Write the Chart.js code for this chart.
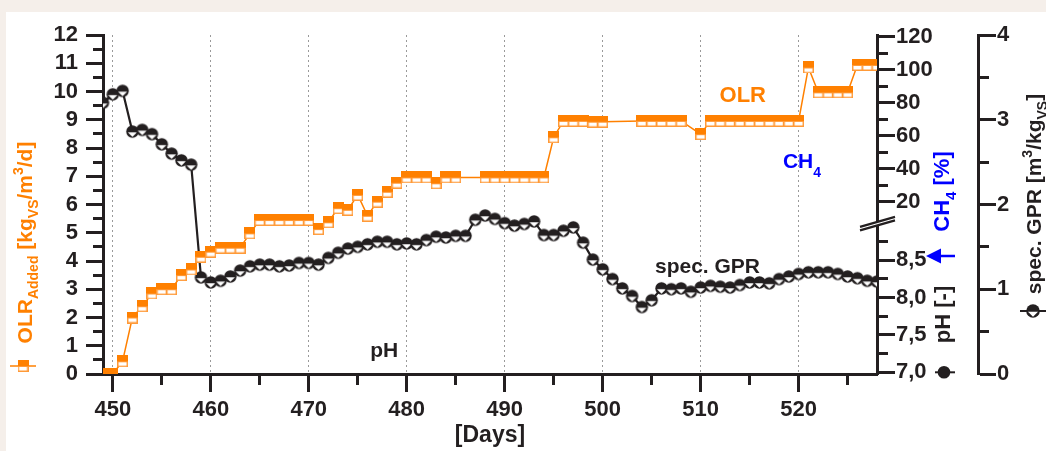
<!DOCTYPE html>
<html><head><meta charset="utf-8">
<script src="https://cdn.jsdelivr.net/npm/chart.js@4.4.1/dist/chart.umd.min.js"></script>
<style>
html,body{margin:0;padding:0;background:#f5efea;width:1046px;height:451px;overflow:hidden}
#panel{position:absolute;left:6px;top:12px;right:0;bottom:0;background:#fff}
#c{position:absolute;left:0;top:0}
</style></head><body>
<div id="panel"></div>
<canvas id="c" width="1046" height="451"></canvas>
<script>
// ---------------- data ----------------
const gprDays = [449,450,451,452,453,454,455,456,457,458,459,460,461,462,463,464,465,466,467,468,469,470,471,472,473,474,475,476,477,478,479,480,481,482,483,484,485,486,487,488,489,490,491,492,493,494,495,496,497,498,499,500,501,502,503,504,505,506,507,508,509,510,511,512,513,514,515,516,517,518,519,520,521,522,523,524,525,526,527,528];
const gprValues = [3.20,3.30,3.34,2.86,2.88,2.83,2.71,2.60,2.52,2.47,1.14,1.08,1.10,1.15,1.22,1.27,1.29,1.29,1.27,1.28,1.31,1.31,1.29,1.37,1.43,1.48,1.50,1.53,1.56,1.56,1.53,1.54,1.53,1.58,1.62,1.61,1.63,1.63,1.82,1.87,1.83,1.78,1.75,1.77,1.80,1.64,1.64,1.69,1.73,1.55,1.35,1.235,1.12,1.01,0.92,0.79,0.87,1.01,1.00,1.01,0.97,1.02,1.04,1.03,1.02,1.05,1.08,1.08,1.07,1.12,1.15,1.18,1.20,1.20,1.20,1.18,1.15,1.13,1.10,1.09];
const olrDays = [449,450,451,452,453,454,455,456,457,458,459,460,461,462,463,464,465,466,467,468,469,470,471,472,473,474,475,476,477,478,479,480,481,482,483,484,485,488,489,490,491,492,493,494,495,496,497,498,499,500,504,505,506,507,508,510,511,512,513,514,515,516,517,518,519,520,521,522,523,524,525,526,527,528];
const olrValues = [0,0,0.45,2.0,2.4,2.85,3.0,3.0,3.5,3.7,4.15,4.33,4.47,4.47,4.47,4.98,5.45,5.45,5.45,5.45,5.45,5.45,5.13,5.37,5.87,5.81,6.34,5.6,6.1,6.45,6.77,6.96,6.96,6.96,6.75,6.96,6.96,6.96,6.96,6.96,6.96,6.96,6.96,6.96,8.38,8.96,8.96,8.96,8.93,8.93,8.96,8.96,8.96,8.96,8.96,8.49,8.96,8.96,8.96,8.96,8.96,8.96,8.96,8.96,8.96,8.96,10.85,9.97,9.97,9.97,9.97,10.94,10.94,10.94];

const dayTicks = [450,460,470,480,490,500,510,520];
const dayMinorTicks = [455,465,475,485,495,505,515,525];
const olrTicks = [0,1,2,3,4,5,6,7,8,9,10,11,12];
const olrMinorTicks = [0.5,1.5,2.5,3.5,4.5,5.5,6.5,7.5,8.5,9.5,10.5,11.5];
const phTicks = [7.0,7.5,8.0,8.5];
const phTickLabels = ['7,0','7,5','8,0','8,5'];
const phMinorTicks = [7.25,7.75,8.25,8.75];
const ch4Ticks = [20,40,60,80,100,120];
const ch4MinorTicks = [30,50,70,90,110];
const gprTicks = [0,1,2,3,4];
const gprMinorTicks = [0.5,1.5,2.5,3.5];

// ---------------- style ----------------
const FONT = '"Liberation Sans", Arial, Helvetica, sans-serif';
const INK = '#231f20', ORANGE = '#ff8000', BLUE = '#0000ff';
const FS = 21;      // titles and in-plot labels
const TFS = 22;     // tick labels

// broken middle axis: pH segment (bottom) and CH4 segment (top) share the 0..12 frame of the left axis
const phToU = p => 0.06 + (p - 7) * 2.644;
const ch4ToU = c => 6.10 + (c - 20) * 0.0584;
const BREAK_U = 5.33;

function makeSquare() {
  const c = document.createElement('canvas'); c.width = 11; c.height = 12;
  const g = c.getContext('2d');
  g.fillStyle = '#ff9a38'; g.fillRect(0, 5, 11, 7);
  g.fillStyle = ORANGE; g.fillRect(0, 0, 11, 6);
  g.fillStyle = '#fff'; g.fillRect(1.5, 7, 8, 3.5);
  return c;
}
function makeCircle(r) {
  const s = Math.ceil(2 * r + 2); const c = document.createElement('canvas'); c.width = s; c.height = s;
  const g = c.getContext('2d'); const m = s / 2;
  g.fillStyle = INK; g.beginPath(); g.arc(m, m, r, 0, 2 * Math.PI); g.fill();
  g.fillStyle = '#fff'; g.beginPath();
  g.moveTo(m - r * 0.74, m + 0.8); g.lineTo(m + r * 0.74, m + 0.8); g.lineTo(m, m + r * 0.86); g.closePath(); g.fill();
  return c;
}
const SQ = makeSquare();
const CIRC = makeCircle(6.2);
const CIRC_BIG = makeCircle(6.8);

function drawRich(ctx, parts, x, y, rot, size, color, align) {
  ctx.save(); ctx.translate(x, y); ctx.rotate(rot);
  ctx.fillStyle = color; ctx.textBaseline = 'alphabetic'; ctx.textAlign = 'left';
  const fonts = parts.map(p => 'bold ' + ((p.sub || p.sup) ? Math.round(size * 0.66) : size) + 'px ' + FONT);
  let w = 0;
  const ws = parts.map((p, i) => { ctx.font = fonts[i]; const m = ctx.measureText(p.t).width; w += m; return m; });
  let cx = align === 'center' ? -w / 2 : 0;
  parts.forEach((p, i) => {
    ctx.font = fonts[i];
    const dy = p.sub ? size * (p.dy || 0.3) : p.sup ? -size * 0.42 : 0;
    ctx.fillText(p.t, cx, dy); cx += ws[i];
  });
  ctx.restore();
}

const deco = {
  id: 'deco',
  afterDraw(chart) {
    const ctx = chart.ctx; const ca = chart.chartArea;
    const sx = chart.scales.x, sy = chart.scales.y, sm = chart.scales.yMid, sg = chart.scales.yGPR;
    ctx.save();
    // minor ticks
    ctx.strokeStyle = INK; ctx.lineWidth = 3; ctx.beginPath();
    dayMinorTicks.forEach(d => { const p = Math.round(sx.getPixelForValue(d) - 1.5) + 1.5; ctx.moveTo(p, ca.bottom); ctx.lineTo(p, ca.bottom + 11); });
    olrMinorTicks.forEach(v => { const p = Math.round(sy.getPixelForValue(v) - 1.5) + 1.5; ctx.moveTo(ca.left - 10, p); ctx.lineTo(ca.left, p); });
    phMinorTicks.forEach(v => { const p = Math.round(sm.getPixelForValue(phToU(v)) - 1.5) + 1.5; ctx.moveTo(sm.left, p); ctx.lineTo(sm.left + 11, p); });
    ch4MinorTicks.forEach(v => { const p = Math.round(sm.getPixelForValue(ch4ToU(v)) - 1.5) + 1.5; ctx.moveTo(sm.left, p); ctx.lineTo(sm.left + 11, p); });
    gprMinorTicks.forEach(v => { const p = Math.round(sg.getPixelForValue(v) - 1.5) + 1.5; ctx.moveTo(sg.left, p); ctx.lineTo(sg.left + 11, p); });
    ctx.stroke();

    // axis break
    const yb = sm.getPixelForValue(BREAK_U), xb = sm.left + 1.5;
    ctx.fillStyle = '#fff'; ctx.beginPath();
    ctx.moveTo(xb - 18.5, yb + 3.4); ctx.lineTo(xb + 16.5, yb - 6.6); ctx.lineTo(xb + 16.5, yb - 3.3); ctx.lineTo(xb - 18.5, yb + 6.7); ctx.closePath(); ctx.fill();
    ctx.lineWidth = 2.2; ctx.strokeStyle = INK; ctx.beginPath();
    ctx.moveTo(xb - 18.5, yb + 3.4); ctx.lineTo(xb + 16.5, yb - 6.6);
    ctx.moveTo(xb - 18.5, yb + 7.0); ctx.lineTo(xb + 16.5, yb - 3.0);
    ctx.stroke();

    // axis titles
    drawRich(ctx, [{t:'OLR'},{t:'Added',sub:true},{t:' [kg'},{t:'VS',sub:true},{t:'/m'},{t:'3',sup:true},{t:'/d]'}], 32, 242.5, -Math.PI/2, FS, ORANGE, 'center');
    drawRich(ctx, [{t:'CH'},{t:'4',sub:true},{t:' [%]'}], 949, 191.5, -Math.PI/2, FS + 1, BLUE, 'center');
    drawRich(ctx, [{t:'pH [-]'}], 950, 314.5, -Math.PI/2, FS + 1, INK, 'center');
    drawRich(ctx, [{t:'spec. GPR [m'},{t:'3',sup:true},{t:'/kg'},{t:'VS',sub:true},{t:']'}], 1041, 194, -Math.PI/2, FS, INK, 'center');

    // title legend symbols
    ctx.lineWidth = 1.5; ctx.strokeStyle = ORANGE; ctx.beginPath(); ctx.moveTo(10, 366); ctx.lineTo(36, 366); ctx.stroke();
    ctx.drawImage(SQ, 17.5, 360);
    ctx.lineWidth = 2.5; ctx.strokeStyle = BLUE; ctx.beginPath(); ctx.moveTo(930, 256); ctx.lineTo(955, 256); ctx.stroke();
    ctx.fillStyle = BLUE; ctx.beginPath(); ctx.moveTo(926, 256); ctx.lineTo(941, 248.5); ctx.lineTo(941, 263.5); ctx.closePath(); ctx.fill();
    const yph = sm.getPixelForValue(phToU(7.0));
    ctx.lineWidth = 2; ctx.strokeStyle = INK; ctx.beginPath(); ctx.moveTo(935, yph); ctx.lineTo(955, yph); ctx.stroke();
    ctx.fillStyle = INK; ctx.beginPath(); ctx.arc(944, yph, 6.3, 0, 2 * Math.PI); ctx.fill();
    ctx.beginPath(); ctx.moveTo(1020, 311); ctx.lineTo(1046, 311); ctx.stroke();
    ctx.drawImage(CIRC_BIG, 1033 - CIRC_BIG.width / 2, 311 - CIRC_BIG.height / 2);

    // in-plot labels (placed in data coordinates)
    drawRich(ctx, [{t:'OLR'}], sx.getPixelForValue(514.3), sy.getPixelForValue(9.63), 0, FS + 1, ORANGE, 'center');
    drawRich(ctx, [{t:'CH'},{t:'4',sub:true,dy:0.42}], sx.getPixelForValue(518.4), sy.getPixelForValue(7.29), 0, FS, BLUE, 'left');
    drawRich(ctx, [{t:'spec. GPR'}], sx.getPixelForValue(510.7), sy.getPixelForValue(3.56), 0, FS, INK, 'center');
    drawRich(ctx, [{t:'pH'}], sx.getPixelForValue(477.7), sy.getPixelForValue(0.60), 0, FS, INK, 'center');
    ctx.restore();
  }
};

const tickFont = {family: FONT, size: TFS, weight: 'bold'};
const axisBase = (len) => ({
  grid: {drawOnChartArea: false, drawTicks: true, tickLength: len, tickWidth: 3, tickColor: INK},
  border: {display: true, color: INK, width: 3},
});
const midLabels = phTickLabels.concat(ch4Ticks.map(String));

new Chart(document.getElementById('c'), {
  type: 'line',
  data: {
    datasets: [
      {
        label: 'OLR',
        data: olrDays.map((d, i) => ({x: d, y: olrValues[i]})),
        xAxisID: 'x', yAxisID: 'y',
        borderColor: ORANGE, borderWidth: 1.5, backgroundColor: ORANGE,
        pointStyle: SQ, pointRadius: 5.5, tension: 0, fill: false
      },
      {
        label: 'spec. GPR',
        data: gprDays.map((d, i) => ({x: d, y: gprValues[i]})),
        xAxisID: 'x', yAxisID: 'yGPR',
        borderColor: INK, borderWidth: 2.2, backgroundColor: INK,
        pointStyle: CIRC, pointRadius: 6, tension: 0, fill: false
      }
    ]
  },
  options: {
    responsive: false, animation: false, devicePixelRatio: 1, events: [],
    layout: {padding: {top: 35, left: 0, right: 0, bottom: 0}},
    plugins: {legend: {display: false}, tooltip: {enabled: false}},
    scales: {
      x: {
        type: 'linear', position: 'bottom', min: 449, max: 528,
        afterBuildTicks: s => { s.ticks = dayTicks.map(v => ({value: v})); },
        afterFit: s => { s.height = 77; },
        grid: {drawOnChartArea: true, color: '#9a9a9a', lineWidth: 1, drawTicks: true, tickLength: 18, tickWidth: 3, tickColor: INK, tickBorderDash: []},
        border: {display: true, color: INK, width: 3, dash: [2, 3]},
        ticks: {font: tickFont, color: INK, padding: 5, maxRotation: 0, autoSkip: false, callback: v => String(v)},
        title: {display: true, text: '[Days]', color: INK, font: {family: FONT, size: 23, weight: 'bold'}, padding: {top: 0, bottom: 2}}
      },
      y: Object.assign(axisBase(17), {
        type: 'linear', position: 'left', min: 0, max: 12,
        afterBuildTicks: s => { s.ticks = olrTicks.map(v => ({value: v})); },
        afterFit: s => { s.width = 103; },
        ticks: {font: tickFont, color: INK, padding: 8, autoSkip: false}
      }),
      yMid: Object.assign(axisBase(18), {
        type: 'linear', position: 'right', weight: 0, min: 0, max: 12,
        afterBuildTicks: s => { s.ticks = phTicks.map(p => ({value: phToU(p)})).concat(ch4Ticks.map(c => ({value: ch4ToU(c)}))); },
        afterFit: s => { s.width = 101; },
        ticks: {font: tickFont, color: INK, padding: 1, autoSkip: false, callback: (v, i) => midLabels[i]}
      }),
      yGPR: Object.assign(axisBase(18), {
        type: 'linear', position: 'right', weight: 1, min: 0, max: 4,
        afterBuildTicks: s => { s.ticks = gprTicks.map(v => ({value: v})); },
        afterFit: s => { s.width = 68; },
        ticks: {font: tickFont, color: INK, padding: 1, autoSkip: false}
      })
    }
  },
  plugins: [deco]
});
</script>
</body></html>
